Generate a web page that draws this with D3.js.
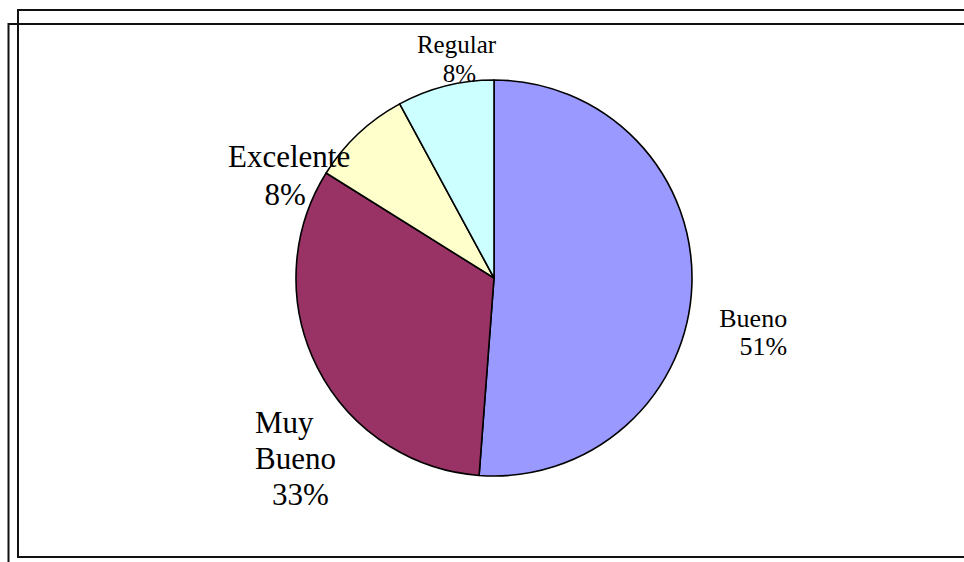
<!DOCTYPE html>
<html>
<head>
<meta charset="utf-8">
<script src="https://cdn.jsdelivr.net/npm/d3@7"></script>
<style>
  body { margin: 0; background: #fff; }
</style>
</head>
<body>
<script>
// chart data
let categories = ['Bueno', 'Muy Bueno', 'Excelente', 'Regular']
let values = [51.2, 32.7, 8.2, 7.9]
let percentLabels = ['51%', '33%', '8%', '8%']
let labelLines = [['Bueno', '51%'], ['Muy', 'Bueno', '33%'], ['Excelente', '8%'], ['Regular', '8%']]
let colors = ['#9999ff', '#993366', '#ffffcc', '#ccffff']

let width = 964, height = 562
let cx = 494, cy = 278, radius = 198

// label look (size, line height, anchor, distance from centre, nudge)
let labelStyle = [
    { size: 26, lh: 28, anchor: 'end', k: 1.32, dx: 32, dy: 53, alignX: [0, 0] },
    { size: 31, lh: 36, anchor: 'start', k: 1.33, dx: -4, dy: 72, alignX: [0, 0, 17] },
    { size: 31, lh: 38, anchor: 'middle', k: 1.15, dx: -49, dy: 74, alignX: [0, -4] },
    { size: 25, lh: 29, anchor: 'middle', k: 1.1, dx: 16, dy: 1, alignX: [0, 3] }
]

let svg = d3.select('body').append('svg')
    .attr('width', width)
    .attr('height', height)
    .style('font-family', '"Liberation Serif", "Times New Roman", "DejaVu Serif", serif')

// frames
svg.append('rect')
    .attr('x', 18).attr('y', 10)
    .attr('width', 960).attr('height', 547)
    .attr('fill', 'none').attr('stroke', '#111').attr('stroke-width', 2)
svg.append('rect')
    .attr('x', 8.5).attr('y', 24)
    .attr('width', 970).attr('height', 560)
    .attr('fill', 'none').attr('stroke', '#111').attr('stroke-width', 2)

let pie = d3.pie().sort(null).value(d => d)
let arcs = pie(values)
let arc = d3.arc().innerRadius(0).outerRadius(radius)

let g = svg.append('g').attr('transform', 'translate(' + cx + ',' + cy + ')')

g.selectAll('path.slice')
    .data(arcs)
    .enter().append('path')
    .attr('class', 'slice')
    .attr('d', arc)
    .attr('fill', (d, i) => colors[i])
    .attr('stroke', '#000')
    .attr('stroke-width', 1.6)
    .attr('stroke-linejoin', 'round')

// labels
arcs.forEach(function (d, i) {
    let s = labelStyle[i]
    let mid = (d.startAngle + d.endAngle) / 2
    let x = Math.sin(mid) * radius * s.k + s.dx
    let y = -Math.cos(mid) * radius * s.k + s.dy
    let lines = labelLines[i]
    let t = g.append('text')
        .attr('text-anchor', s.anchor)
        .attr('font-size', s.size)
        .attr('fill', '#000')
    lines.forEach(function (line, j) {
        t.append('tspan')
            .attr('x', x + (s.alignX[j] || 0))
            .attr('y', y + (j - (lines.length - 1) / 2) * s.lh)
            .text(line)
    })
})
</script>
</body>
</html>
